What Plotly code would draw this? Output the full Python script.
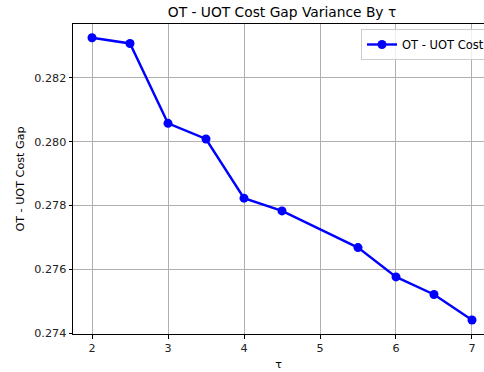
import plotly.graph_objects as go

tau = [2, 2.5, 3, 3.5, 4, 4.5, 5.5, 6, 6.5, 7]
gap = [0.28326, 0.28308, 0.280575, 0.280084, 0.27823, 0.27783, 0.27668, 0.27576, 0.27521, 0.27441]
x_ticks = [2, 3, 4, 5, 6, 7]
y_ticks = [0.274, 0.276, 0.278, 0.280, 0.282]

FONT = "DejaVu Sans"
FS = 11.2

fig = go.Figure()
fig.add_trace(go.Scatter(
    x=tau, y=gap, mode="lines+markers", name="OT - UOT Cost Gap",
    line=dict(color="#0000ff", width=2.4),
    marker=dict(color="#0000ff", size=9),
))

fig.update_layout(
    width=484, height=372,
    margin=dict(l=73, r=0, t=24, b=38, autoexpand=False),
    paper_bgcolor="white", plot_bgcolor="white",
    font=dict(family=FONT, size=FS, color="#222222"),
    title=dict(text="OT - UOT Cost Gap Variance By τ", font=dict(family=FONT, size=13.8, color="#000000"),
               xref="container", x=282/484, xanchor="center",
               yref="container", y=1 - 12/372, yanchor="middle"),
    showlegend=True,
    legend=dict(x=0.7007, y=0.9839, xanchor="left", yanchor="top",
                bgcolor="rgba(255,255,255,0.8)", bordercolor="#cccccc", borderwidth=1,
                font=dict(family=FONT, size=11.5, color="#000000"), itemwidth=30),
)
fig.update_xaxes(
    range=[1.75, 7.158], tickvals=x_ticks, ticktext=[str(v) for v in x_ticks],
    showgrid=True, gridcolor="#b0b0b0", gridwidth=0.8, zeroline=False,
    showline=True, linecolor="#000000", linewidth=1, mirror=True,
    ticks="outside", ticklen=3.5, tickcolor="#000000", tickwidth=0.8,
    title=dict(text="τ", font=dict(family=FONT, size=FS, color="#000000"), standoff=6),
)
fig.update_yaxes(
    range=[0.27397, 0.28369], tickvals=y_ticks, ticktext=[f"{v:.3f}" for v in y_ticks],
    showgrid=True, gridcolor="#b0b0b0", gridwidth=0.8, zeroline=False,
    showline=True, linecolor="#000000", linewidth=1,
    ticks="outside", ticklen=3.5, tickcolor="#000000", tickwidth=0.8,
    title=dict(text="OT - UOT Cost Gap", font=dict(family=FONT, size=FS, color="#000000"), standoff=7),
)

fig.write_html(
    "out.html",
    config={"displayModeBar": False},
    post_script="document.body.style.margin='0';document.body.style.overflow='hidden';",
)
